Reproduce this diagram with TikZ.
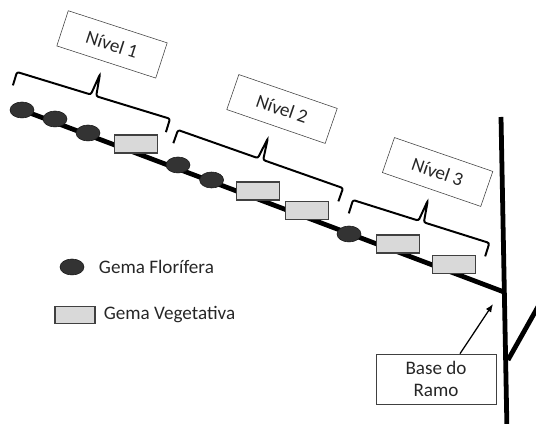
\documentclass[tikz,border=0pt]{standalone}
\usepackage{fontspec}
\setmainfont{Carlito}
\usetikzlibrary{positioning, backgrounds, shapes.geometric, arrows.meta}
\tikzset{%
	flor/.style={draw=black!90, ellipse, minimum width=6mm, minimum height=4mm, inner sep=0mm, fill=black!80},
	veg/.style={draw=black!75, rectangle, minimum width=10.75mm, minimum height=4.5mm, inner sep=0mm,%
		fill=black!15, line width=0.8pt},
	nivel/.style={draw=black!75, rectangle, minimum width=26mm, minimum height=9.25mm, inner sep=0mm,%
		text=black!85},
	legenda/.style={inner sep=0mm, text=black!85},
	ramo/.style={line width=3.4pt},
	chavelinha/.style={line width=1.4pt, rounded corners=1.5pt},
	pics/chave/.style={code={%
		\draw[chavelinha] (0,-0.35) -- (0,0) -- ({#1/2-0.07},0) -- ({#1/2},0.55) -- ({#1/2+0.07},0) -- (#1,0) -- (#1,-0.35);}}
}

\begin{document}
\begin{tikzpicture}[font=\fontsize{13.6pt}{16pt}\selectfont]
	\useasboundingbox (0,0) rectangle (13.4,10.6);
	% gemas ao longo do ramo
	\node[flor] (f1) at (0.55,7.85) {};
	\node[flor] (f2) at (1.375,7.625) {};
	\node[flor] (f3) at (2.2,7.275) {};
	\node[veg] (v1) at (3.39,7.0) {};
	\node[flor] (f4) at (4.45,6.475) {};
	\node[flor] (f5) at (5.29,6.1) {};
	\node[veg] (v2) at (6.45,5.825) {};
	\node[veg] (v3) at (7.675,5.3375) {};
	\node[flor] (f6) at (8.725,4.75) {};
	\node[veg] (v4) at (9.94,4.5) {};
	\node[veg] (v5) at (11.34,3.99) {};

	% niveis
	\node[nivel, rotate=-18] (n1) at (2.8,9.49) {Nível 1};
	\node[nivel, rotate=-19] (n2) at (7.05,7.875) {Nível 2};
	\node[nivel, rotate=-19] (n3) at (10.94,6.3) {Nível 3};
	\pic[rotate=-17] at (0.425,8.8) {chave=4.0};
	\pic[rotate=-19.4] at (4.45,7.35) {chave=4.375};
	\pic[rotate=-17.5] at (8.825,5.6) {chave=3.575};

	% legenda
	\node[flor] (lf) at (1.8,3.925) {};
	\node[legenda, right=0.36 of lf] (lft) {Gema Florífera};
	\node[veg, minimum width=10mm, minimum height=4.25mm] (lv) at (1.875,2.725) {};
	\node[legenda, right=0.2 of lv] (lvt) {Gema Vegetativa};

	% base do ramo
	\node[draw=black!75, align=center, minimum width=30mm, minimum height=12.5mm, text=black!85] (br) at (10.9,1.125) {Base do\\Ramo};
	\coordinate (seta) at (12.325,3.0);
	\draw[-{Latex[length=2mm, width=1.6mm]}, line width=0.9pt] ([xshift=6mm]br.north) to (seta);

	\coordinate (base) at (12.6,3.3);
	\coordinate (topo) at (12.525,7.675);
	\coordinate (pe) at (12.675,-0.2);
	\coordinate (lado) at (12.7,1.6);
	\coordinate (ladofim) at (13.6,3.2);
	\begin{scope}[on background layer]
		\clip (0,0) rectangle (13.4,10.6);
		\draw[ramo] (f1.center) to (base);
		\draw[ramo] (topo) to (pe);
		\draw[ramo] (lado) to (ladofim);
	\end{scope}
\end{tikzpicture}
\end{document}
